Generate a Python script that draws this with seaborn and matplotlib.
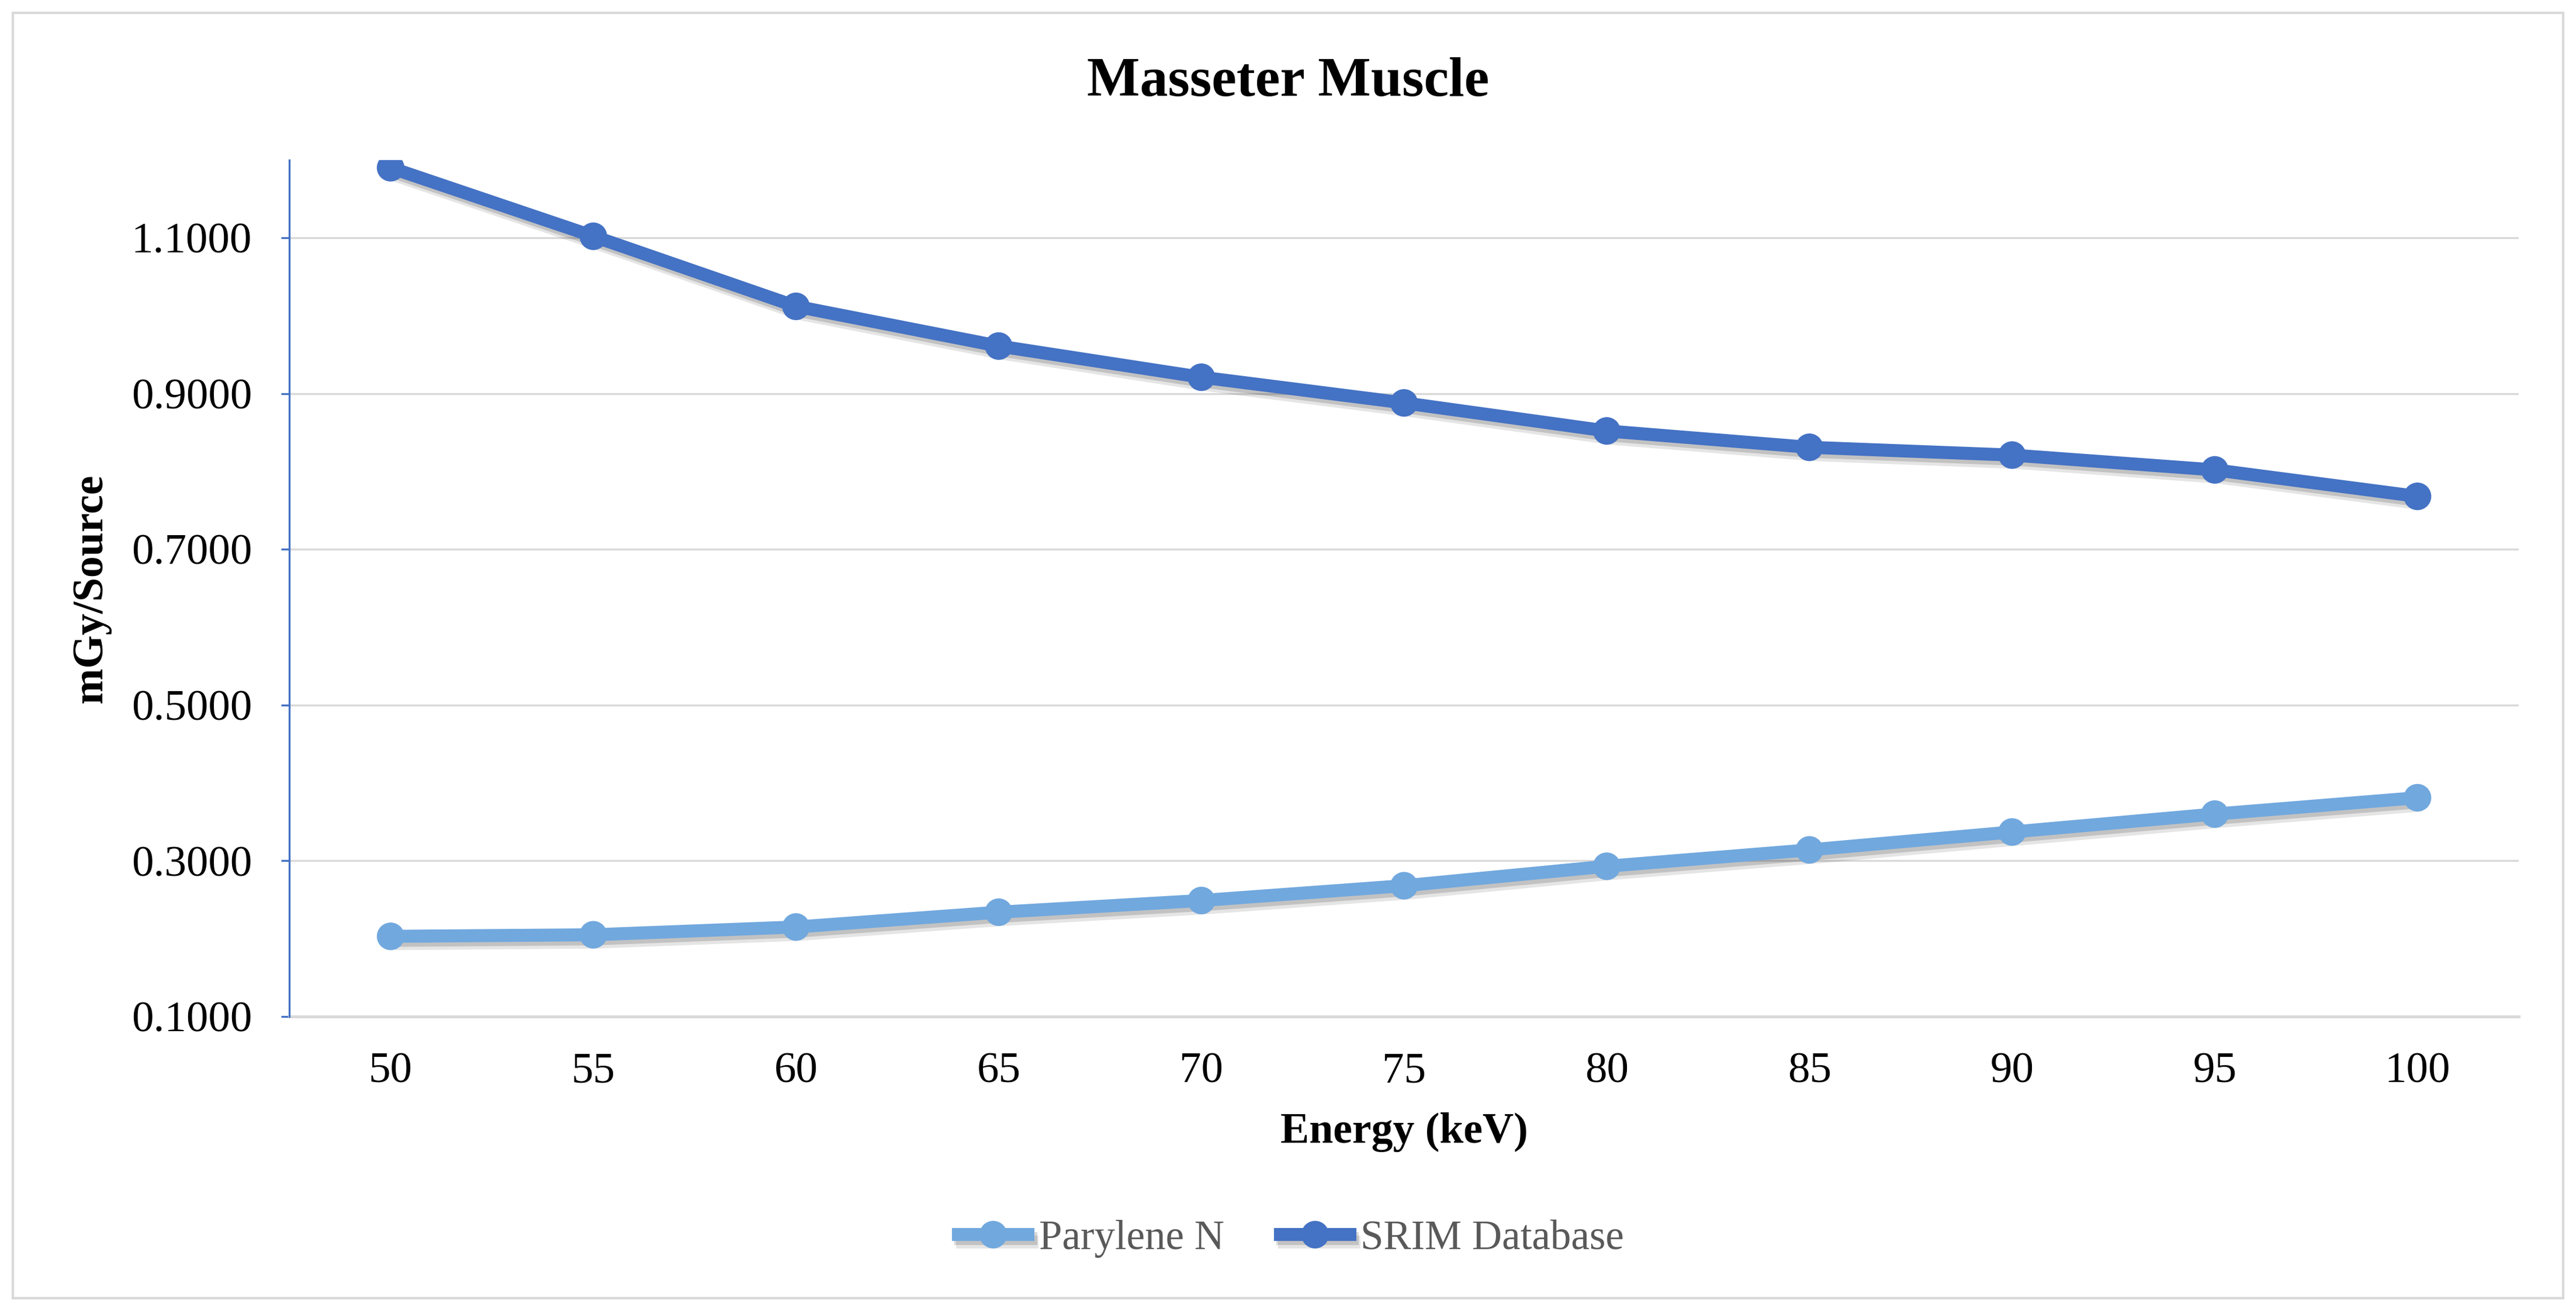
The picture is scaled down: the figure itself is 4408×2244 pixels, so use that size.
import pandas as pd
import seaborn as sns
import matplotlib
matplotlib.use("Agg")
import matplotlib.pyplot as plt
import matplotlib.patheffects as pe
from matplotlib.patches import Rectangle
from matplotlib.ticker import FixedLocator, FuncFormatter

# Dados
energia_kev = [50, 55, 60, 65, 70, 75, 80, 85, 90, 95, 100]
parylene_n = [0.203, 0.205, 0.215, 0.234, 0.249, 0.268, 0.293, 0.314, 0.337, 0.360, 0.381]
srim_database = [1.190, 1.102, 1.012, 0.961, 0.921, 0.888, 0.852, 0.831, 0.821, 0.802, 0.768]
nomes_series = ["Parylene N", "SRIM Database"]
cores_series = ["#71A8DE", "#4472C4"]
y_ticks = [0.1, 0.3, 0.5, 0.7, 0.9, 1.1]

titulo = "Masseter Muscle"
rotulo_x = "Energy (keV)"
rotulo_y = "mGy/Source"


def montar_dados():
    df = pd.DataFrame({
        "Energy": energia_kev * 2,
        "Dose": parylene_n + srim_database,
        "Series": [nomes_series[0]] * len(energia_kev) + [nomes_series[1]] * len(energia_kev),
    })
    return df


def plotar(df):
    sns.set_theme(style="white")
    plt.rcParams["font.family"] = ["Liberation Serif", "DejaVu Serif"]
    plt.rcParams["text.color"] = "black"

    fig, ax = plt.subplots(figsize=(22.04, 11.22), dpi=200)
    fig.subplots_adjust(left=0.1123, right=0.9778, top=0.878, bottom=0.2246)

    sns.lineplot(data=df, x="Energy", y="Dose", hue="Series", hue_order=nomes_series,
                 palette=dict(zip(nomes_series, cores_series)), marker="o", markersize=17,
                 markeredgewidth=0, linewidth=8, legend=False, ax=ax)

    # sombra suave embaixo das linhas
    sombra = [pe.SimpleLineShadow(offset=(2.5, -4.5), shadow_color="black", alpha=0.10),
              pe.SimpleLineShadow(offset=(1.5, -2.5), shadow_color="black", alpha=0.15),
              pe.Normal()]
    for linha in ax.lines:
        linha.set_path_effects(sombra)
        linha.set_solid_capstyle("butt")

    # eixos
    ax.set_xlim(energia_kev[0] - 2.5, energia_kev[-1] + 2.5)
    ax.set_ylim(0.1, 1.2)
    ax.set_xticks(energia_kev)
    ax.set_xticklabels([str(e) for e in energia_kev])
    ax.xaxis.set_minor_locator(FixedLocator([e - 2.5 for e in energia_kev] + [energia_kev[-1] + 2.5]))
    ax.set_yticks(y_ticks)
    ax.yaxis.set_major_formatter(FuncFormatter(lambda v, p: f"{v:.4f}"))

    ax.tick_params(axis="x", which="major", length=0, pad=22, labelsize=27, labelcolor="black")
    ax.tick_params(axis="x", which="minor", length=9, width=1.5, color="#D9D9D9", direction="out")
    ax.tick_params(axis="y", which="major", length=5, width=1.2, color="#4472C4", pad=18,
                   labelsize=27, labelcolor="black", left=True)

    ax.grid(axis="y", color="#D9D9D9", linewidth=1.2)
    ax.grid(axis="x", visible=False)
    for lado in ["top", "right"]:
        ax.spines[lado].set_visible(False)
    ax.spines["bottom"].set_color("#D9D9D9")
    ax.spines["bottom"].set_linewidth(1.8)
    ax.spines["left"].set_color("#4472C4")
    ax.spines["left"].set_linewidth(1.2)
    ax.spines["left"].set_zorder(3)

    ax.set_xlabel(rotulo_x, fontsize=26.5, fontweight="bold", color="black")
    ax.set_ylabel(rotulo_y, fontsize=26.5, fontweight="bold", color="black")
    ax.xaxis.set_label_coords(0.5, -0.112)
    ax.yaxis.set_label_coords(-0.08, 0.5)

    fig.suptitle(titulo, x=0.5, y=0.937, va="center", fontsize=34.5, fontweight="bold",
                 color="black")

    leg = ax.legend(handles=ax.lines[:2], labels=nomes_series, loc="center",
                    bbox_to_anchor=(0.5, 0.055), bbox_transform=fig.transFigure, ncol=2,
                    frameon=False, fontsize=25.5, handlelength=2.0, handletextpad=0.1,
                    columnspacing=1.2)
    for txt in leg.get_texts():
        txt.set_color("#595959")

    # moldura do gráfico
    fig.add_artist(Rectangle((0.005, 0.01), 0.99, 0.98, transform=fig.transFigure,
                             fill=False, edgecolor="#D9D9D9", linewidth=1.5))

    fig.savefig("out.png", dpi=200)


def main():
    df = montar_dados()
    plotar(df)


if __name__ == "__main__":
    main()
